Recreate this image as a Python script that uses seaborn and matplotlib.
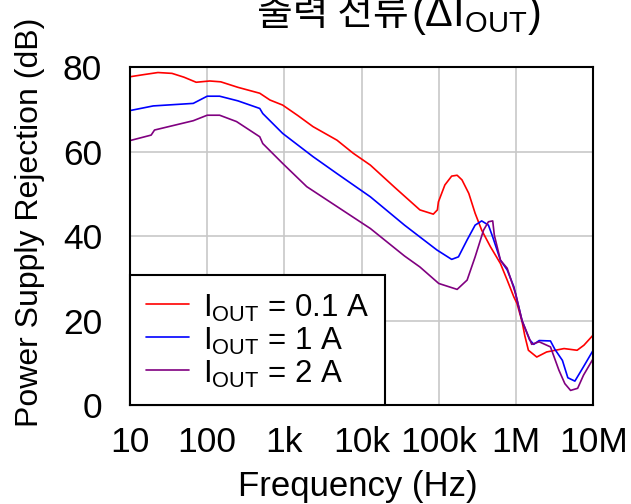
import numpy as np
import pandas as pd
import matplotlib
matplotlib.use("Agg")
import matplotlib.pyplot as plt
import seaborn as sns
from matplotlib.ticker import FixedLocator, FixedFormatter, NullLocator

# 데이터
freq_01 = [10, 15, 23, 35, 50, 72, 108, 150, 250, 480, 650, 950, 1500, 2350, 4800,
           7800, 13e3, 27e3, 57e3, 85e3, 96e3, 99e3, 120e3, 147e3, 173e3, 200e3,
           245e3, 296e3, 360e3, 467e3, 630e3, 770e3, 940e3, 1.03e6, 1.2e6, 1.3e6,
           1.45e6, 1.86e6, 2.5e6, 4.2e6, 6.2e6, 7.6e6, 10e6]
psr_01 = [77.7, 78.2, 78.7, 78.5, 77.6, 76.4, 76.7, 76.5, 75.2, 73.8, 72.2, 71.0, 68.5,
          65.9, 62.7, 59.6, 56.8, 51.5, 46.2, 45.2, 46.2, 48.1, 52.1, 54.2, 54.4, 53.3,
          50.1, 45.4, 41.4, 37.5, 33.5, 29.6, 25.6, 24.1, 19.8, 16.5,
          13.0, 11.4, 12.6, 13.4, 13.0, 14.2, 16.6]

freq_1 = [10, 20, 66, 100, 145, 250, 480, 525, 950, 2350, 4800, 13e3, 36e3, 57e3,
          95e3, 147e3, 180e3, 233e3, 296e3, 360e3, 440e3, 500e3, 630e3, 770e3, 940e3,
          1.2e6, 1.5e6, 1.7e6, 2e6, 2.8e6, 3.2e6, 4e6, 4.7e6, 5.8e6, 7.5e6, 10e6]
psr_1 = [69.7, 70.8, 71.4, 73.1, 73.1, 72.0, 70.2, 69.0, 64.3, 58.8, 54.8, 49.3, 42.6,
         39.8, 36.7, 34.5, 35.1, 39.1, 42.6, 43.6, 42.6, 39.8, 34.3, 32.0, 28.0,
         20.0, 15.5, 14.4, 15.3, 15.2, 13.2, 10.6, 6.5, 5.7, 9.1, 13.0]

freq_2 = [10, 18.8, 20.8, 66, 100, 145, 240, 480, 525, 950, 1950, 4800, 13e3, 36e3,
          57e3, 100e3, 173e3, 233e3, 296e3, 380e3, 440e3, 500e3, 525e3, 630e3, 770e3,
          990e3, 1.2e6, 1.6e6, 2e6, 2.8e6, 3.6e6, 4.3e6, 5.1e6, 6.3e6, 7.5e6, 10e6]
psr_2 = [62.6, 63.9, 65.1, 67.3, 68.6, 68.6, 67.1, 63.5, 61.9, 57.2, 51.7, 47.0, 41.8,
         35.3, 32.7, 28.8, 27.4, 29.6, 35.1, 41.4, 43.4, 43.6, 40.2, 34.3, 32.4,
         26.4, 20.0, 14.4, 15.0, 13.8, 8.3, 5.1, 3.5, 4.0, 7.1, 11.0]

series_labels = [r"I$_{\mathrm{OUT}}$ = 0.1 A", r"I$_{\mathrm{OUT}}$ = 1 A",
                 r"I$_{\mathrm{OUT}}$ = 2 A"]
series_colors = ["#ff0000", "#0000ff", "#800080"]

x_ticks = [10, 100, 1e3, 1e4, 1e5, 1e6, 1e7]
x_ticklabels = ["10", "100", "1k", "10k", "100k", "1M", "10M"]
y_ticks = [0, 20, 40, 60, 80]

title_ko = "출력 전류"
title_sym = r"(ΔI$_{\mathrm{OUT}}$)"

# 긴 형식 데이터프레임
df = pd.concat([
    pd.DataFrame({"freq": f, "psr": p, "series": lab})
    for f, p, lab in zip([freq_01, freq_1, freq_2], [psr_01, psr_1, psr_2], series_labels)
], ignore_index=True)

sns.set_style("white")
plt.rcParams["font.family"] = ["Liberation Sans", "DejaVu Sans"]
plt.rcParams["mathtext.fontset"] = "custom"
plt.rcParams["mathtext.rm"] = "Liberation Sans"
plt.rcParams["mathtext.it"] = "Liberation Sans:italic"
plt.rcParams["text.color"] = "black"
plt.rcParams["axes.labelcolor"] = "black"

fig = plt.figure(figsize=(6.31, 5.04), dpi=100)
ax = fig.add_axes([0.206, 0.196, 0.734, 0.671])

sns.lineplot(data=df, x="freq", y="psr", hue="series", hue_order=series_labels,
             palette=dict(zip(series_labels, series_colors)), estimator=None,
             sort=False, linewidth=1.2, ax=ax)

ax.set_xscale("log")
ax.set_xlim(10, 1e7)
ax.set_ylim(0, 80)
ax.xaxis.set_major_locator(FixedLocator(x_ticks))
ax.xaxis.set_major_formatter(FixedFormatter(x_ticklabels))
ax.xaxis.set_minor_locator(NullLocator())
ax.set_yticks(y_ticks)

ax.grid(True, color="#c8c8c8", linewidth=1.2)
ax.set_axisbelow(True)
for sp in ax.spines.values():
    sp.set_color("black")
    sp.set_linewidth(1.5)

ax.tick_params(axis="both", length=0, labelsize=25.5, colors="black")
ax.tick_params(axis="x", pad=15)
ax.tick_params(axis="y", pad=20)

ax.set_xlabel("Frequency (Hz)", fontsize=25, color="black")
ax.set_ylabel("Power Supply Rejection (dB)", fontsize=23, color="black")
ax.xaxis.label.set_va("baseline")
ax.xaxis.set_label_coords(0.491, -0.269)
ax.yaxis.set_label_coords(-0.184, 0.54)

handles, labels = ax.get_legend_handles_labels()
leg = ax.legend(handles, labels, loc="lower left", bbox_to_anchor=(0, 0),
                borderaxespad=0, fancybox=False, edgecolor="black", framealpha=1,
                fontsize=22.5, handlelength=1.38, handletextpad=0.45,
                handleheight=1.12, labelspacing=0.0, borderpad=0.5)
leg.get_frame().set_linewidth(1.5)
for t in leg.get_texts():
    t.set_color("black")

# 제목: 한글 부분과 기호 부분
fig.text(409 / 631, 1 - 25 / 504, title_ko, ha="right", va="baseline",
         fontsize=28, color="black", family=["Noto Sans CJK KR", "Liberation Sans"])
fig.text(411 / 631, 1 - 26 / 504, title_sym, ha="left", va="baseline",
         fontsize=30, color="black")

fig.savefig("out.png", dpi=100)
